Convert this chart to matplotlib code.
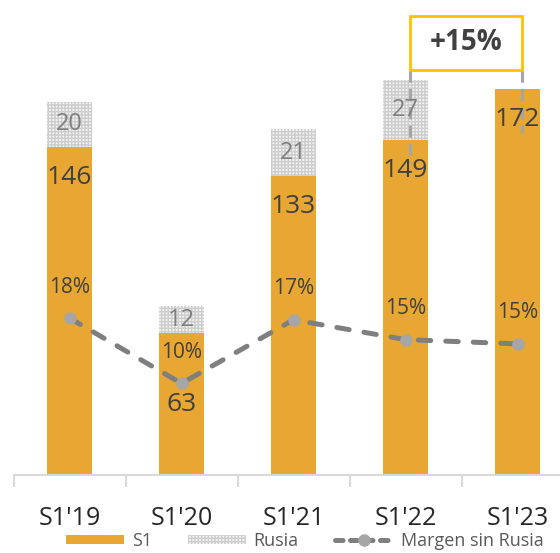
import matplotlib
matplotlib.use("Agg")
import matplotlib.pyplot as plt
from matplotlib.patches import Rectangle
from matplotlib.lines import Line2D

plt.rcParams['font.family'] = ['Open Sans', 'DejaVu Sans']
plt.rcParams['hatch.linewidth'] = 1.0

categories = ["S1'19", "S1'20", "S1'21", "S1'22", "S1'23"]
s1 = [146, 63, 133, 149, 172]
rusia = [20, 12, 21, 27, 0]
margen = [17.6, 10.0, 17.4, 15.1, 14.6]
growth_label = "+15%"

ORANGE = '#E8A633'
GREY_LINE = '#7F7F7F'
GREY_MARK = '#A6A6A6'
DARK = '#404040'
HATCH_FACE = '#F4F4F4'
HATCH_COL = '#CDCDCD'

fig = plt.figure(figsize=(5.6, 5.53), dpi=100)
ax = fig.add_axes([13.5 / 560, 78 / 553, 1.0, 475 / 553])
ax.set_xlim(-0.5, 4.5)
ax.set_ylim(0, 475 / 2.247)

x = list(range(len(categories)))
w = 0.4
ax.bar(x, s1, width=w, color=ORANGE, zorder=2)
rus_x = [xi for xi, r in zip(x, rusia) if r > 0]
rus_b = [s for s, r in zip(s1, rusia) if r > 0]
rus_h = [r for r in rusia if r > 0]
ax.bar(rus_x, rus_h, bottom=rus_b, width=w, facecolor=HATCH_FACE,
       edgecolor=HATCH_COL, linewidth=0, hatch='+++++', zorder=2)

for xi, v in zip(x, s1):
    off = -51 if v < 100 else -22
    ax.annotate(str(v), (xi, v), xytext=(0, off), textcoords='offset points',
                ha='center', va='center', fontsize=19, color=DARK, zorder=6)
for xi, s, r in zip(x, s1, rusia):
    if r > 0:
        ax.text(xi, s + r / 2, str(r), ha='center', va='center',
                fontsize=17, color='#7F7F7F', zorder=6)

# axis styling
for side in ['left', 'right', 'top']:
    ax.spines[side].set_visible(False)
ax.spines['bottom'].set_color('#D9D9D9')
ax.spines['bottom'].set_linewidth(1.5)
ax.set_yticks([])
ax.set_xticks([i - 0.5 for i in range(len(categories) + 1)])
ax.set_xticklabels([])
ax.tick_params(axis='x', which='major', length=8.5, width=1.5, color='#D9D9D9')
ax.set_xticks(x, minor=True)
ax.set_xticklabels(categories, minor=True, fontsize=18, color='#262626')
ax.tick_params(axis='x', which='minor', length=0, pad=22)

# margin line on secondary axis
ax2 = ax.twinx()
ax2.set_ylim(-0.65, 54.6)
ax2.axis('off')
ax2.plot(x, margen, color=GREY_LINE, lw=3.6, dashes=(2.5, 3),
         dash_capstyle='round', zorder=3)
ax2.plot(x, margen, 'o', color=GREY_MARK, ms=9, mec='none', zorder=4)
for xi, m in zip(x, margen):
    ax2.annotate(f"{round(m)}%", (xi, m), xytext=(0, 22.3),
                 textcoords='offset points', ha='center', va='center',
                 fontsize=15, color=DARK, zorder=6)

# growth box with dashed connectors
px = 1 / 2.247
box_l, box_r = 3 + 0.04, 4 + 0.04
box_bot = (475 - 70) * px
box_top = (475 - 16) * px
ax.add_patch(Rectangle((box_l, box_bot), box_r - box_l, box_top - box_bot,
                       facecolor='white', edgecolor='#FFC000', lw=2,
                       zorder=7, clip_on=False))
ax.text((box_l + box_r) / 2, (box_bot + box_top) / 2, growth_label,
        ha='center', va='center', fontsize=20, fontweight='bold',
        color=DARK, zorder=8)
ax.plot([box_l, box_l], [box_bot, s1[3] - 10], color='#A6A6A6', lw=2.2,
        dashes=(4, 2), zorder=5)
ax.plot([box_r, box_r], [box_bot, s1[4] - 20], color='#A6A6A6', lw=2.2,
        dashes=(4, 2), zorder=5)

# legend
handles = [
    Rectangle((0, 0), 1, 1, facecolor=ORANGE, edgecolor='none'),
    Rectangle((0, 0), 1, 1, facecolor=HATCH_FACE, edgecolor=HATCH_COL,
              linewidth=0, hatch='+++++'),
    Line2D([0], [0], color=GREY_LINE, lw=3.6, dashes=(1.5, 1.5),
           dash_capstyle='round', marker='o', ms=9, mfc=GREY_MARK,
           mec='none'),
]
fig.legend(handles, ['S1', 'Rusia', 'Margen sin Rusia'], loc='center',
           bbox_to_anchor=(0.544, 0.022), ncol=3, frameon=False,
           fontsize=13, labelcolor='#595959', handlelength=3.25,
           handleheight=0.45, handletextpad=0.4, columnspacing=2.0,
           borderpad=0)

fig.savefig('out.png', dpi=100)
